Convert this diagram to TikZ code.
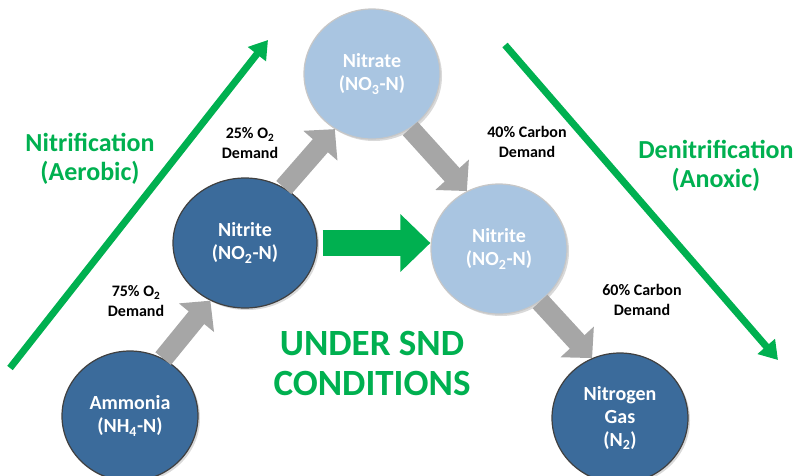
\documentclass[tikz,border=0pt]{standalone}
\usepackage{fontspec}
\setmainfont{Carlito}
\usetikzlibrary{arrows.meta,shapes.geometric,shadows}
\definecolor{darkblue}{HTML}{3B6B9B}
\definecolor{lightblue}{HTML}{A9C5E1}
\definecolor{sndgreen}{HTML}{00B050}
\definecolor{arrowgray}{HTML}{A6A6A6}
\begin{document}
\begin{tikzpicture}[x=1pt,y=-1pt,
  basenode/.style={ellipse, inner sep=0pt, minimum width=136pt, minimum height=130pt,
    text=white, align=center, font=\bfseries\fontsize{20}{23}\selectfont,
    drop shadow={opacity=0.3, shadow xshift=2pt, shadow yshift=-2pt}},
  darknode/.style={basenode, draw=black!75, line width=1.2pt, fill=darkblue},
  lightnode/.style={basenode, draw=black!22, line width=1.2pt, fill=lightblue},
  grayblock/.style={draw=arrowgray, line width=20pt, -{Triangle[length=22pt,width=44pt]}},
  greenblock/.style={draw=sndgreen, line width=26pt, -{Triangle[length=30pt,width=56pt]}},
  greenline/.style={draw=sndgreen, line width=7pt, -{Triangle[length=18pt,width=22pt]}},
  lab/.style={align=center, font=\bfseries\fontsize{16}{20}\selectfont},
  greentext/.style={align=center, text=sndgreen, font=\bfseries\fontsize{26}{29}\selectfont},
  bigtext/.style={align=center, text=sndgreen, font=\bfseries\fontsize{37}{40}\selectfont}]
\useasboundingbox (0,0) rectangle (799,475);

% green direction lines
\coordinate (gl1) at (10,368);
\coordinate (gl2) at (268,40);
\coordinate (gr1) at (505,45);
\coordinate (gr2) at (778,360);
\draw[greenline] (gl1) -- (gl2);
\draw[greenline] (gr1) -- (gr2);

% nodes
\node[darknode] (amm) at (130,416) {Ammonia\\(NH\textsubscript{4}-N)};
\node[darknode, minimum width=144pt] (nit1) at (245,243) {Nitrite\\(NO\textsubscript{2}-N)};
\node[lightnode] (nat) at (372,74) {Nitrate\\(NO\textsubscript{3}-N)};
\node[lightnode] (nit2) at (499,249) {Nitrite\\(NO\textsubscript{2}-N)};
\node[darknode] (gas) at (620,418) {Nitrogen\\Gas\\(N\textsubscript{2})};

% gray block arrows
\draw[grayblock] (amm.60) -- (nit1.239);
\draw[grayblock] (nit1.55) -- (nat.236);
\draw[grayblock] (nat.305) -- (nit2.119);
\draw[grayblock] (nit2.308) -- (gas.115);

% green block arrow
\draw[greenblock] ([xshift=5pt]nit1.east) -- (nit1.east -| nit2.west);

% labels
\node[lab] (l25) at (250,143) {25\% O\textsubscript{2}\\Demand};
\node[lab] (l75) at (136,301) {75\% O\textsubscript{2}\\Demand};
\node[lab] (l40) at (527,142) {40\% Carbon\\Demand};
\node[lab] (l60) at (642,300) {60\% Carbon\\Demand};

\node[greentext] (nitr) at (90,159) {Nitrification\\(Aerobic)};
\node[greentext] (denitr) at (716,166) {Denitrification\\(Anoxic)};
\node[bigtext] (snd) at (372,363) {UNDER SND\\CONDITIONS};
\end{tikzpicture}
\end{document}
